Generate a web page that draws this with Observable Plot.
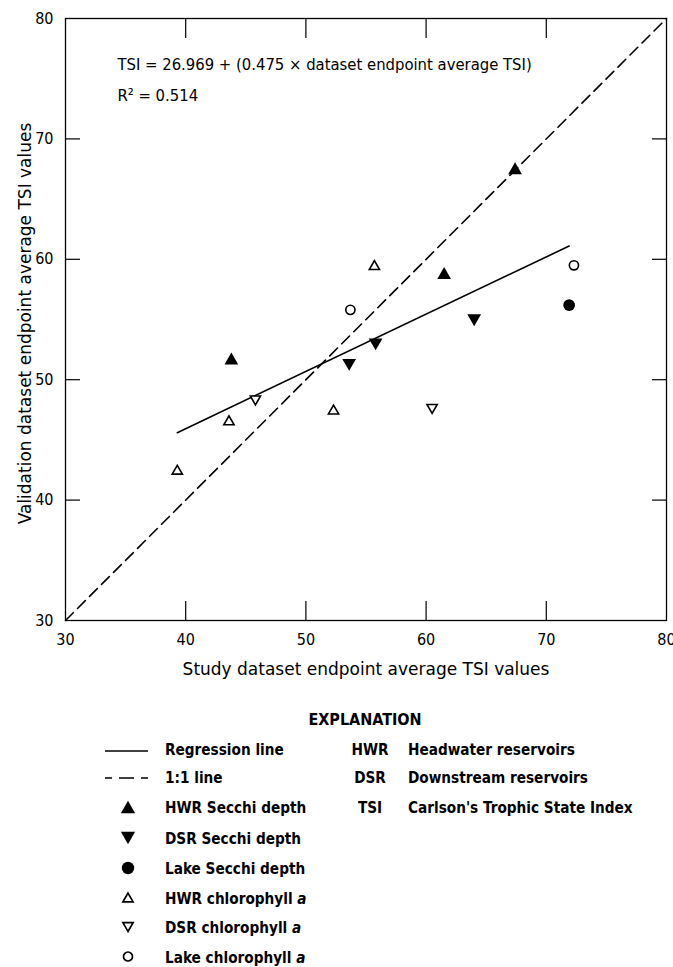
<!DOCTYPE html>
<html>
<head>
<meta charset="utf-8">
<script src="https://cdn.jsdelivr.net/npm/d3@7"></script>
<script src="https://cdn.jsdelivr.net/npm/@observablehq/plot@0.6"></script>
<style>
  body { margin: 0; background: #fff; }
  #chart { width: 673px; }
  #chart svg { display: block; }
</style>
</head>
<body>
<div id="chart"></div>
<script>
// ---------- data ----------
const hwrSecchi = [[43.8, 51.6], [61.5, 58.7], [67.4, 67.4]];
const dsrSecchi = [[53.6, 51.4], [55.8, 53.1], [64.0, 55.1]];
const lakeSecchi = [[71.9, 56.2]];
const hwrChl = [[39.3, 42.4], [43.6, 46.5], [52.3, 47.4], [55.7, 59.4]];
const dsrChl = [[45.8, 48.4], [60.5, 47.7]];
const lakeChl = [[53.7, 55.8], [72.3, 59.5]];
const regressionLine = [[39.3, 45.6], [71.9, 61.1]];
const oneToOneLine = [[30, 30], [80, 80]];
const tickLabels = [30, 40, 50, 60, 70, 80];
const innerTicks = [40, 50, 60, 70];
const xTitle = "Study dataset endpoint average TSI values";
const yTitle = "Validation dataset endpoint average TSI values";
const equation = "TSI = 26.969 + (0.475 \u00d7 dataset endpoint average TSI)";
const rSquared = "R\u00b2 = 0.514";
const legendTitle = "EXPLANATION";
const legendItems = [
  {kind: "solid", label: "Regression line"},
  {kind: "dashed", label: "1:1 line"},
  {kind: "upFilled", label: "HWR Secchi depth"},
  {kind: "downFilled", label: "DSR Secchi depth"},
  {kind: "circleFilled", label: "Lake Secchi depth"},
  {kind: "upOpen", label: "HWR chlorophyll ", italic: "a"},
  {kind: "downOpen", label: "DSR chlorophyll ", italic: "a"},
  {kind: "circleOpen", label: "Lake chlorophyll ", italic: "a"}
];
const abbreviations = [
  ["HWR", "Headwater reservoirs"],
  ["DSR", "Downstream reservoirs"],
  ["TSI", "Carlson's Trophic State Index"]
];

// ---------- styling ----------
const COND = "'DejaVu Sans Condensed', 'Liberation Sans Narrow', 'DejaVu Sans', sans-serif";
const REG = "'DejaVu Sans', 'Liberation Sans', sans-serif";

const triangleDown = {
  draw(context, size) {
    const y = -Math.sqrt(size / (Math.sqrt(3) * 3));
    context.moveTo(0, -2 * y);
    context.lineTo(Math.sqrt(3) * y, y);
    context.lineTo(-Math.sqrt(3) * y, y);
    context.closePath();
  }
};

const X = d => d[0], Y = d => d[1];

const plot = Plot.plot({
  width: 673,
  height: 690,
  marginLeft: 65,
  marginRight: 7,
  marginTop: 18,
  marginBottom: 70,
  x: {domain: [30, 80]},
  y: {domain: [30, 80]},
  style: {fontFamily: COND, fontSize: "16px", color: "black", background: "white"},
  marks: [
    // tick labels
    Plot.axisX(tickLabels, {anchor: "bottom", tickSize: 0, tickPadding: 13, label: null, fontSize: 16}),
    Plot.axisY(tickLabels, {anchor: "left", tickSize: 0, tickPadding: 12, label: null, fontSize: 16}),
    // inward ticks on all four sides
    Plot.axisX(innerTicks, {anchor: "bottom", tickSize: 19, dy: -19, tickFormat: () => "", label: null, strokeWidth: 1.2}),
    Plot.axisX(innerTicks, {anchor: "top", tickSize: 19, dy: 19, tickFormat: () => "", label: null, strokeWidth: 1.2}),
    Plot.axisY(innerTicks, {anchor: "left", tickSize: 15, dx: 15, tickFormat: () => "", label: null, strokeWidth: 1.2}),
    Plot.axisY(innerTicks, {anchor: "right", tickSize: 15, dx: -15, tickFormat: () => "", label: null, strokeWidth: 1.2}),
    // axis titles
    Plot.text([xTitle], {text: d => d, frameAnchor: "bottom", dy: 42, lineAnchor: "top", fontFamily: REG, fontSize: 17}),
    Plot.text([yTitle], {text: d => d, frameAnchor: "left", textAnchor: "middle", rotate: -90, dx: -40, dy: 4, fontFamily: REG, fontSize: 17}),
    // equation annotation
    Plot.text([equation], {text: d => d, frameAnchor: "top-left", dx: 52, dy: 40, lineAnchor: "top", textAnchor: "start", fontSize: 16.5}),
    Plot.text([rSquared], {text: d => d, frameAnchor: "top-left", dx: 52, dy: 71, lineAnchor: "top", textAnchor: "start", fontSize: 16.5}),
    // lines
    Plot.line(oneToOneLine, {x: X, y: Y, stroke: "black", strokeWidth: 1.6, strokeDasharray: "11,6"}),
    Plot.line(regressionLine, {x: X, y: Y, stroke: "black", strokeWidth: 1.6}),
    // points
    Plot.dot(hwrChl, {x: X, y: Y, symbol: "triangle", r: 3.8, fill: "white", stroke: "black", strokeWidth: 1.6}),
    Plot.dot(dsrChl, {x: X, y: Y, symbol: triangleDown, r: 3.8, fill: "white", stroke: "black", strokeWidth: 1.6}),
    Plot.dot(lakeChl, {x: X, y: Y, symbol: "circle", r: 4.6, fill: "white", stroke: "black", strokeWidth: 1.6}),
    Plot.dot(hwrSecchi, {x: X, y: Y, symbol: "triangle", r: 5.1, fill: "black", stroke: "none"}),
    Plot.dot(dsrSecchi, {x: X, y: Y, symbol: triangleDown, r: 5.1, fill: "black", stroke: "none"}),
    Plot.dot(lakeSecchi, {x: X, y: Y, symbol: "circle", r: 5.9, fill: "black", stroke: "none"}),
    Plot.frame({stroke: "black", strokeWidth: 1.3})
  ]
});
document.getElementById("chart").appendChild(plot);

// ---------- legend (below the plot SVG) ----------
const LEG_H = 277, OFF = 690;
const leg = d3.create("svg")
  .attr("width", 673).attr("height", LEG_H)
  .attr("font-family", COND).attr("font-weight", "bold").attr("font-size", 15.2)
  .style("display", "block").style("background", "white");

leg.append("text").attr("x", 365).attr("y", 725 - OFF).attr("text-anchor", "middle")
  .attr("font-size", 16).text(legendTitle);

const rowBase = [755, 783, 813, 844, 874, 903.5, 933, 962.5];
const sym = (type, r) => d3.symbol(type, Math.PI * r * r)();
legendItems.forEach((it, i) => {
  const by = rowBase[i] - OFF;
  const cy = by - 6;
  const g = leg.append("g");
  if (it.kind === "solid") {
    g.append("line").attr("x1", 105).attr("x2", 148).attr("y1", cy + 2).attr("y2", cy + 2)
      .attr("stroke", "black").attr("stroke-width", 1.6);
  } else if (it.kind === "dashed") {
    g.append("line").attr("x1", 105).attr("x2", 148).attr("y1", cy + 1).attr("y2", cy + 1)
      .attr("stroke", "black").attr("stroke-width", 1.6).attr("stroke-dasharray", "7,7,15,7,7");
  } else {
    const filled = it.kind.endsWith("Filled");
    const isCircle = it.kind.startsWith("circle");
    const isDown = it.kind.startsWith("down");
    const r = isCircle ? (filled ? 6.2 : 4.5) : (filled ? 5.3 : 3.8);
    const type = isCircle ? d3.symbolCircle : (isDown ? triangleDown : d3.symbolTriangle);
    const dyAdj = isCircle ? 0 : (isDown ? -0.39 * r : 0.39 * r);
    g.append("path").attr("d", sym(type, r))
      .attr("transform", `translate(128,${cy + dyAdj})`)
      .attr("fill", filled ? "black" : "white")
      .attr("stroke", filled ? "none" : "black")
      .attr("stroke-width", 1.7);
  }
  const t = g.append("text").attr("x", 165).attr("y", by).text(it.label);
  if (it.italic) t.append("tspan").attr("font-style", "italic").text(it.italic);
});
abbreviations.forEach(([ab, desc], i) => {
  const by = rowBase[i] - OFF;
  leg.append("text").attr("x", 370).attr("y", by).attr("text-anchor", "middle").text(ab);
  leg.append("text").attr("x", 408).attr("y", by).text(desc);
});
document.getElementById("chart").appendChild(leg.node());
</script>
</body>
</html>
